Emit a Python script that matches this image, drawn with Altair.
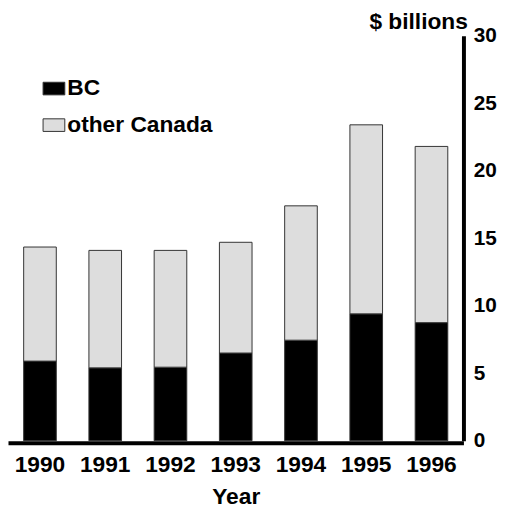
import altair as alt
import pandas as pd

years = ["1990", "1991", "1992", "1993", "1994", "1995", "1996"]
bc = [5.9, 5.4, 5.45, 6.5, 7.45, 9.4, 8.75]
other_canada = [8.45, 8.7, 8.65, 8.2, 9.95, 14.0, 13.05]
series = ["BC", "other Canada"]
colors = ["#000000", "#DDDDDD"]

rows = []
for i, y in enumerate(years):
    rows.append({"Year": y, "series": series[0], "value": bc[i], "ord": 0})
    rows.append({"Year": y, "series": series[1], "value": other_canada[i], "ord": 1})
df = pd.DataFrame(rows)

FONT = "Liberation Sans"
FS = 23

chart = alt.Chart(df).mark_bar(stroke="#333333", strokeWidth=1).encode(
    x=alt.X("Year:N", sort=years,
            scale=alt.Scale(paddingInner=0.5, paddingOuter=0.24),
            axis=alt.Axis(title="Year", labelAngle=0, ticks=False, offset=2,
                          domainColor="black", domainWidth=4,
                          labelFont=FONT, labelFontWeight="bold", labelFontSize=FS,
                          labelColor="black", labelPadding=11,
                          titleFont=FONT, titleFontWeight="bold", titleFontSize=FS,
                          titleColor="black", titlePadding=9)),
    y=alt.Y("value:Q", stack="zero",
            scale=alt.Scale(domain=[0, 30], nice=False),
            axis=alt.Axis(orient="right", title="$ billions", values=[0, 5, 10, 15, 20, 25, 30],
                          ticks=False, grid=False, domainColor="black", domainWidth=4,
                          labelFont=FONT, labelFontWeight="bold", labelFontSize=21,
                          labelColor="black", labelPadding=10,
                          titleFont=FONT, titleFontWeight="bold", titleFontSize=FS,
                          titleColor="black", titleAngle=0, titleAlign="right",
                          titleBaseline="alphabetic", titleX=4, titleY=-7)),
    color=alt.Color("series:N", sort=series,
                    scale=alt.Scale(domain=series, range=colors),
                    legend=alt.Legend(title=None, orient="none", legendX=35, legendY=42,
                                      symbolType="M-1,-0.58H1V0.58H-1Z", symbolSize=484,
                                      symbolStrokeColor="#333333", symbolStrokeWidth=1,
                                      symbolOpacity=1,
                                      labelFont=FONT, labelFontWeight="bold", labelFontSize=FS,
                                      labelColor="black", labelOffset=2, rowPadding=13,
                                      padding=0)),
    order=alt.Order("ord:Q"),
).properties(
    width=461, height=410,
    padding={"left": 0, "top": 25, "right": 37, "bottom": 65},
    autosize=alt.AutoSizeParams(type="none"),
).configure_view(stroke=None)

chart.save("out.html", embed_options={"renderer": "svg", "actions": False})
